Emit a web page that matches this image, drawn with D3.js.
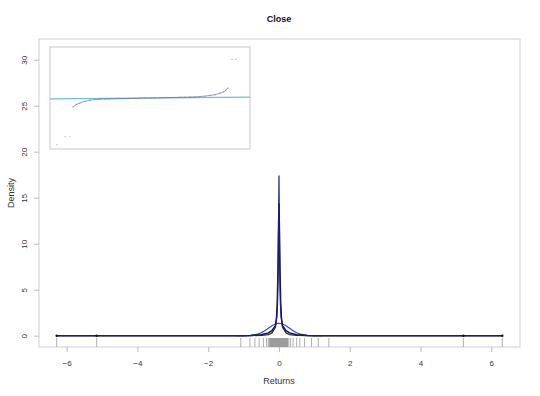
<!DOCTYPE html>
<html>
<head>
<meta charset="UTF-8">
<title>Close</title>
<script src="https://cdnjs.cloudflare.com/ajax/libs/d3/7.8.5/d3.min.js"></script>
<style>
    body { margin: 0; background: #fff; }
    text { font-family: "Liberation Sans", Arial, sans-serif; }
</style>
</head>
<body>
<div id="chart"></div>
<script>
// returns (rug marks)
const rugValues = [-6.28, -5.15, -1.08, -0.82, -0.68, -0.56, -0.44, -0.35, -0.3, -0.27,
    -0.25, -0.24, -0.23, -0.22, -0.21, -0.2, -0.19, -0.18, -0.17, -0.16, -0.15, -0.14,
    -0.13, -0.12, -0.11, -0.1, -0.09, -0.08, -0.07, -0.06, -0.05, -0.04, -0.03, -0.02,
    -0.01, 0, 0.01, 0.02, 0.03, 0.04, 0.05, 0.06, 0.07, 0.08, 0.09, 0.1, 0.11, 0.12,
    0.13, 0.14, 0.15, 0.16, 0.17, 0.18, 0.19, 0.2, 0.21, 0.22, 0.23, 0.24, 0.25,
    0.28, 0.33, 0.4, 0.5, 0.59, 0.72, 0.92, 1.11, 1.41, 5.21, 6.31];
const endPoints = [-6.28, -5.15, 5.21, 6.31];

// kernel density (black)
const kdeX = [-6.3, -1.0, -0.8, -0.5, -0.3, -0.2, -0.1, -0.07, -0.05, -0.03, -0.015, 0,
    0.015, 0.03, 0.05, 0.07, 0.1, 0.2, 0.3, 0.5, 0.8, 1.0, 6.3];
const kdeY = [0, 0, 0.02, 0.1, 0.3, 0.55, 1.1, 2.0, 3.5, 7.0, 11.5, 14.4,
    11.5, 7.0, 3.5, 2.0, 1.1, 0.55, 0.3, 0.1, 0.02, 0, 0];

// fitted heavy-tailed density (navy)
const fitX = [-6.3, -0.8, -0.5, -0.3, -0.2, -0.1, -0.06, -0.04, -0.02, -0.01, 0,
    0.01, 0.02, 0.04, 0.06, 0.1, 0.2, 0.3, 0.5, 0.8, 6.3];
const fitY = [0, 0.01, 0.03, 0.12, 0.3, 0.9, 2.0, 3.5, 7.5, 12.0, 17.4,
    12.0, 7.5, 3.5, 2.0, 0.9, 0.3, 0.12, 0.03, 0.01, 0];

// normal density (blue)
const normX = [-1.2, -1.0, -0.8, -0.6, -0.5, -0.4, -0.3, -0.2, -0.1, 0,
    0.1, 0.2, 0.3, 0.4, 0.5, 0.6, 0.8, 1.0, 1.2];
const normY = [0, 0.004, 0.034, 0.17, 0.32, 0.54, 0.8, 1.07, 1.27, 1.35,
    1.27, 1.07, 0.8, 0.54, 0.32, 0.17, 0.034, 0.004, 0];

// inset QQ plot
const qqTheo = [-3.72, -3.4, -3.2, -3.08, -2.95, -2.8, -2.6, -2.4, -2.2, -2.0, -1.8, -1.6,
    -1.4, -1.2, -1.0, -0.8, -0.6, -0.4, -0.2, 0, 0.2, 0.4, 0.6, 0.8, 1.0, 1.2, 1.4,
    1.6, 1.8, 2.0, 2.2, 2.4, 2.6, 2.8, 2.95, 3.05, 3.12, 3.28, 3.44];
const qqSample = [-6.4, -5.3, -5.3, -1.23, -0.9, -0.68, -0.45, -0.3, -0.22, -0.18, -0.15, -0.13,
    -0.11, -0.09, -0.08, -0.06, -0.05, -0.03, -0.01, 0, 0.01, 0.03, 0.05, 0.06, 0.08, 0.1, 0.12,
    0.14, 0.16, 0.2, 0.26, 0.35, 0.45, 0.65, 0.85, 1.1, 1.37, 5.3, 5.3];
const qqLine = [[-4, -0.11], [4, 0.11]];

const xTicks = [-6, -4, -2, 0, 2, 4, 6];
const yTicks = [0, 5, 10, 15, 20, 25, 30];

const width = 540, height = 396;
const plot = {left: 39, right: 520, top: 39, bottom: 347};

const svg = d3.select('#chart').append('svg')
    .attr('width', width).attr('height', height);

const x = d3.scaleLinear().domain([-6.78, 6.81]).range([plot.left, plot.right]);
const y = d3.scaleLinear().domain([-1.23, 32.25]).range([plot.bottom, plot.top]);

// box
svg.append('rect')
    .attr('x', plot.left).attr('y', plot.top)
    .attr('width', plot.right - plot.left).attr('height', plot.bottom - plot.top)
    .attr('fill', 'none').attr('stroke', '#d0d0d0');

// axes
const xAxis = svg.append('g')
    .attr('transform', `translate(0,${plot.bottom})`)
    .call(d3.axisBottom(x).tickValues(xTicks).tickSize(5).tickPadding(8));
const yAxis = svg.append('g')
    .attr('transform', `translate(${plot.left},0)`)
    .call(d3.axisLeft(y).tickValues(yTicks).tickSize(5));
[xAxis, yAxis].forEach(a => {
    a.select('.domain').remove();
    a.selectAll('line').attr('stroke', '#bbb');
    a.selectAll('text').attr('fill', '#333').style('font-size', '8px');
});
yAxis.selectAll('.tick text')
    .attr('x', 0).attr('dx', 0).attr('dy', 0)
    .attr('text-anchor', 'middle')
    .attr('transform', 'translate(-12,0) rotate(-90)');

// titles
svg.append('text').attr('x', 279).attr('y', 22).attr('text-anchor', 'middle')
    .style('font-size', '9px').style('font-weight', 'bold').attr('fill', '#111').text('Close');
svg.append('text').attr('x', 279).attr('y', 384).attr('text-anchor', 'middle')
    .style('font-size', '9px').attr('fill', '#333').text('Returns');
svg.append('text').attr('transform', 'translate(14,193) rotate(-90)').attr('text-anchor', 'middle')
    .style('font-size', '9px').attr('fill', '#333').text('Density');

// rug
svg.append('g').selectAll('line').data(rugValues).enter().append('line')
    .attr('x1', d => x(d)).attr('x2', d => x(d))
    .attr('y1', plot.bottom).attr('y2', plot.bottom - 9)
    .attr('stroke', '#999').attr('stroke-width', 0.8);

// curves
const line = d3.line().x(d => x(d[0])).y(d => y(d[1]));
svg.append('path').datum(normX.map((v, i) => [v, normY[i]]))
    .attr('d', line).attr('fill', 'none').attr('stroke', '#2c46c8').attr('stroke-width', 1.1);
svg.append('path').datum(kdeX.map((v, i) => [v, kdeY[i]]))
    .attr('d', line).attr('fill', 'none').attr('stroke', '#111').attr('stroke-width', 1.4);
svg.append('path').datum(fitX.map((v, i) => [v, fitY[i]]))
    .attr('d', line).attr('fill', 'none').attr('stroke', '#1a1a8c').attr('stroke-width', 1.2);
svg.append('g').selectAll('circle').data(endPoints).enter().append('circle')
    .attr('cx', d => x(d)).attr('cy', y(0)).attr('r', 1.2).attr('fill', '#111');

// inset
const inset = {left: 50, right: 250, top: 47, bottom: 149};
const ix = d3.scaleLinear().domain([-4, 4]).range([inset.left, inset.right]);
const iy = d3.scaleLinear().domain([-7, 7]).range([inset.bottom, inset.top]);
svg.append('rect')
    .attr('x', inset.left).attr('y', inset.top)
    .attr('width', inset.right - inset.left).attr('height', inset.bottom - inset.top)
    .attr('fill', '#fff').attr('stroke', '#c8c8c8');
svg.append('line')
    .attr('x1', ix(qqLine[0][0])).attr('y1', iy(qqLine[0][1]))
    .attr('x2', ix(qqLine[1][0])).attr('y2', iy(qqLine[1][1]))
    .attr('stroke', '#6cc0d0').attr('stroke-width', 1.2);
const qqPts = qqTheo.map((v, i) => [v, qqSample[i]]);
svg.append('path').datum(qqPts.slice(3, 37))
    .attr('d', d3.line().x(d => ix(d[0])).y(d => iy(d[1])).curve(d3.curveMonotoneX))
    .attr('fill', 'none').attr('stroke', '#3b4a8c').attr('stroke-width', 0.9).attr('opacity', 0.6);
svg.append('g').selectAll('circle').data(qqPts).enter().append('circle')
    .attr('cx', d => ix(d[0])).attr('cy', d => iy(d[1])).attr('r', 0.7)
    .attr('fill', '#8890a8').attr('opacity', 0.7);
</script>
</body>
</html>
